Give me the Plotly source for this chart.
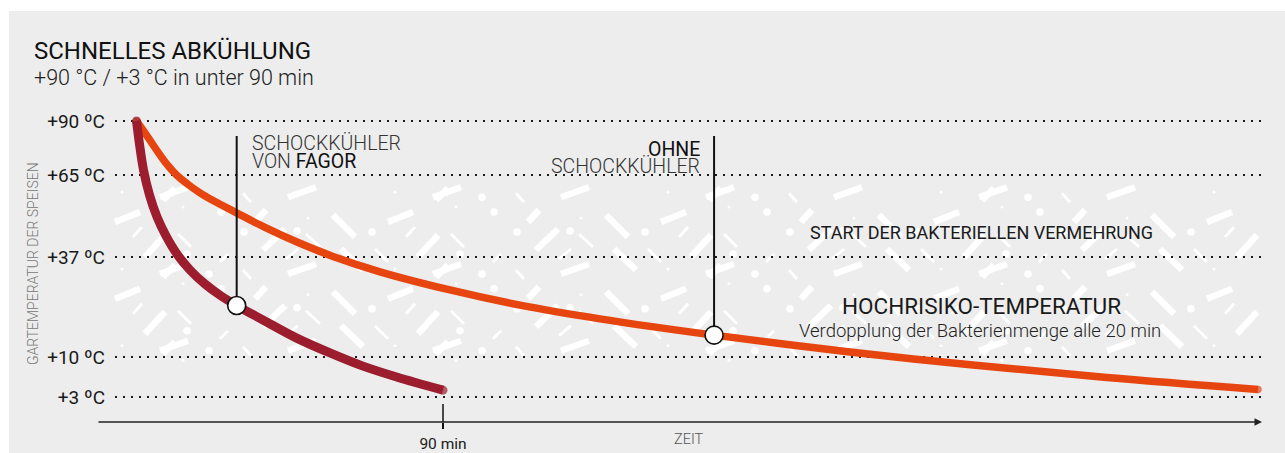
import numpy as np
import plotly.graph_objects as go

# ---------------- data ----------------
red_time = [0, 0.91, 2.06, 3.82, 6.02, 8.66, 11.89, 15.71, 20.11, 24.81, 29.42, 37.14, 47.04, 56.82, 66.51, 76.40, 90]   # minutes
red_temp = [90, 78.9, 67.3, 58.2, 50.7, 44.2, 38.0, 33.5, 29.7, 26.5, 23.9, 20.0, 15.1, 11.1, 8.4, 6.5, 4.2]            # degC
orange_time = [0, 3.08, 6.31, 8.96, 11.75, 15.12, 18.65, 22.76, 29.51, 37.73, 47.13, 57.70, 71.50, 92.05,
               112.6, 136.1, 169.6, 209.5, 245.6, 284.9, 329.3]
orange_temp = [90, 83.1, 75.6, 69.9, 65, 61.8, 58.9, 56.1, 52.0, 47.1, 42.1, 37.2, 33.0, 28.1,
               24.0, 20.3, 15.9, 11.35, 8.6, 6.4, 4.3]
marker_time = [29.42, 169.6]
marker_temp = [23.9, 15.9]
tick_temps = [90, 65, 37, 10, 3]
tick_labels = ["+90 ºC", "+65 ºC", "+37 ºC", "+10 ºC", "+3 ºC"]
x_tick_vals = [90]
x_tick_labels = ["90 min"]

# ---------------- schematic (non-linear) temperature scale ----------------
LEVEL_POS = [0, 54, 136, 236, 276]


def ty(v):
    return np.interp(v, tick_temps[::-1], LEVEL_POS[::-1])


W, H = 1285, 453
ML, MR, MT, MB = 115, 23, 100, 31
PW, PH = W - ML - MR, H - MT - MB
X0PX = 136.5                    # px of t = 0
K = (443 - X0PX) / 90.0         # px per minute
xrange_ = [(ML - X0PX) / K, (W - MR - X0PX) / K]
yrange_ = [PH - 21, -21]


def px(x):
    return (x - ML) / PW


def py(y):
    return (H - MB - y) / PH


FONT = "Roboto"
INK = "#1a1a1a"
ORANGE = "#e6450f"
RED = "#9b1d2e"
BG = "#ededed"

fig = go.Figure()

# curves
fig.add_trace(go.Scatter(
    x=orange_time, y=ty(orange_temp), mode="lines+markers",
    line=dict(color=ORANGE, width=7.5, shape="spline", smoothing=1.0),
    marker=dict(color=ORANGE, size=[7.5] + [0] * (len(orange_time) - 2) + [7.5], line=dict(width=0)),
    hoverinfo="skip", showlegend=False))
fig.add_trace(go.Scatter(
    x=red_time, y=ty(red_temp), mode="lines+markers",
    line=dict(color=RED, width=9, shape="spline", smoothing=1.0),
    marker=dict(color=RED, size=[9] + [0] * (len(red_time) - 2) + [9], line=dict(width=0)),
    hoverinfo="skip", showlegend=False))

# indicator lines
top_u = 15
for t, v in zip(marker_time, marker_temp):
    fig.add_trace(go.Scatter(x=[t, t], y=[top_u, float(ty(v))], mode="lines",
                             line=dict(color="#111111", width=2), hoverinfo="skip", showlegend=False))
fig.add_trace(go.Scatter(x=marker_time, y=ty(marker_temp), mode="markers",
                         marker=dict(symbol="circle", size=18, color="white",
                                     line=dict(color="#111111", width=1.6)),
                         hoverinfo="skip", showlegend=False))

shapes = []
# grey panel
shapes.append(dict(type="rect", xref="paper", yref="paper", x0=px(9), x1=px(W + 5), y0=py(H + 5), y1=py(11),
                   fillcolor=BG, line=dict(width=0), layer="below"))

# decorative white pattern (repeating tile)
TW, TH = 273, 76.7
thick = [((155, 8), (177, 30)), ((163, 42), (185, 63)), ((77, 15), (88, 3)), ((85, 43), (107, 22)),
         ((240, 50), (260, 28)), ((258, 70), (270, 58)), ((110, 67), (138, 57)), ((210, 15), (235, 5)),
         ((-18, 67), (10, 57))]
thin = [((0, 27), (13, 40)), ((128, 27), (142, 40)), ((197, 42), (210, 55)), ((65, 63), (73, 72)),
        ((228, 30), (237, 20)), ((108, 52), (120, 42)), ((42, 55), (50, 47))]
dots = [(31, 67, 3.8), (66, 25, 3.8), (194, 25, 3.8), (9, 47, 3.8), (43, 5, 3.8), (119, 24, 3.8),
        (217, 62, 1.5), (130, 11, 1.5), (5, 0, 1.5)]
RX0, RX1, RY0, RY1 = 110, 1250, 192, 362
for i in range(-1, 5):
    for j in range(-1, 3):
        ox, oy = 178 + i * TW, 207 + j * TH
        for seg_list, wdt in ((thick, 6.5), (thin, 2.8)):
            for (a, b) in seg_list:
                x0, y0 = ox + a[0], oy + a[1]
                x1, y1 = ox + b[0], oy + b[1]
                cx, cy = (x0 + x1) / 2, (y0 + y1) / 2
                if RX0 <= cx <= RX1 and RY0 <= cy <= RY1:
                    shapes.append(dict(type="line", xref="paper", yref="paper",
                                       x0=px(x0), y0=py(y0), x1=px(x1), y1=py(y1),
                                       line=dict(color="white", width=wdt), layer="below"))
        for (dx, dy, r) in dots:
            cx, cy = ox + dx, oy + dy
            if RX0 <= cx <= RX1 and RY0 <= cy <= RY1:
                shapes.append(dict(type="circle", xref="paper", yref="paper",
                                   x0=px(cx - r), x1=px(cx + r), y0=py(cy + r), y1=py(cy - r),
                                   fillcolor="white", line=dict(width=0), layer="below"))

# upper part of the 90 min tick
shapes.append(dict(type="line", xref="x", yref="paper", x0=90, x1=90, y0=0, y1=py(404),
                   line=dict(color="#111111", width=1.5)))

annotations = []
# x axis line with arrow
annotations.append(dict(x=1, y=0, xref="paper", yref="paper", ax=-(1262 - 97), ay=0,
                        axref="pixel", ayref="pixel", text="", showarrow=True,
                        arrowhead=2, arrowsize=1, arrowwidth=1.5, arrowcolor="#222222", standoff=0))


def label(text, x, y, size, xanchor="left", weight=400, color=INK, angle=0):
    annotations.append(dict(text=text, x=px(x), y=py(y), xref="paper", yref="paper",
                            xanchor=xanchor, yanchor="middle", showarrow=False, textangle=angle,
                            font=dict(family=FONT, size=size, color=color, weight=weight)))


label("SCHNELLES ABKÜHLUNG", 32, 51, 24, weight=400, color="#111111")
label("+90 °C / +3 °C in unter 90 min", 32, 77, 21.5, weight=300, color="#222222")
label("GARTEMPERATUR DER SPEISEN", 33, 264, 14, xanchor="center", weight=300, color="#777777", angle=-90)
label("SCHOCKKÜHLER", 250, 143, 19.5, weight=300, color="#333333")
label("VON <span style='font-weight:400;fill:#111111'>FAGOR</span>", 250, 161, 19.5, weight=300, color="#333333")
label("OHNE", 702, 149, 19.5, xanchor="right", weight=400, color="#111111")
label("SCHOCKKÜHLER", 702, 166, 19.5, xanchor="right", weight=300, color="#333333")
label("START DER BAKTERIELLEN VERMEHRUNG", 981, 233, 18, xanchor="center", weight=400)
label("HOCHRISIKO-TEMPERATUR", 981, 306, 22.5, xanchor="center", weight=400)
label("Verdopplung der Bakterienmenge alle 20 min", 980, 331, 18.5, xanchor="center", weight=300, color="#222222")
label("ZEIT", 689, 439, 14.5, xanchor="center", weight=300, color="#555555")

fig.update_layout(
    width=W, height=H, autosize=False, margin=dict(l=ML, r=MR, t=MT, b=MB, pad=0, autoexpand=False),
    paper_bgcolor="white", plot_bgcolor="rgba(0,0,0,0)",
    shapes=shapes, annotations=annotations, showlegend=False,
    xaxis=dict(range=xrange_, showgrid=False, zeroline=False, showline=False, automargin=False,
               tickvals=x_tick_vals, ticktext=x_tick_labels, ticks="outside", ticklen=6,
               tickwidth=1.5, tickcolor="#111111", ticklabelstandoff=1,
               tickfont=dict(family=FONT, size=15.5, color=INK)),
    yaxis=dict(range=yrange_, showgrid=True, gridcolor="#1a1a1a", gridwidth=2, griddash="2px,6px",
               zeroline=False, showline=False, ticks="", automargin=False,
               tickvals=list(ty(tick_temps)), ticktext=tick_labels, ticklabelstandoff=9,
               tickfont=dict(family=FONT, size=19, color=INK)),
)

fig.write_html("out.html", config={"displayModeBar": False, "responsive": False},
               post_script="document.body.style.margin='0px';")
